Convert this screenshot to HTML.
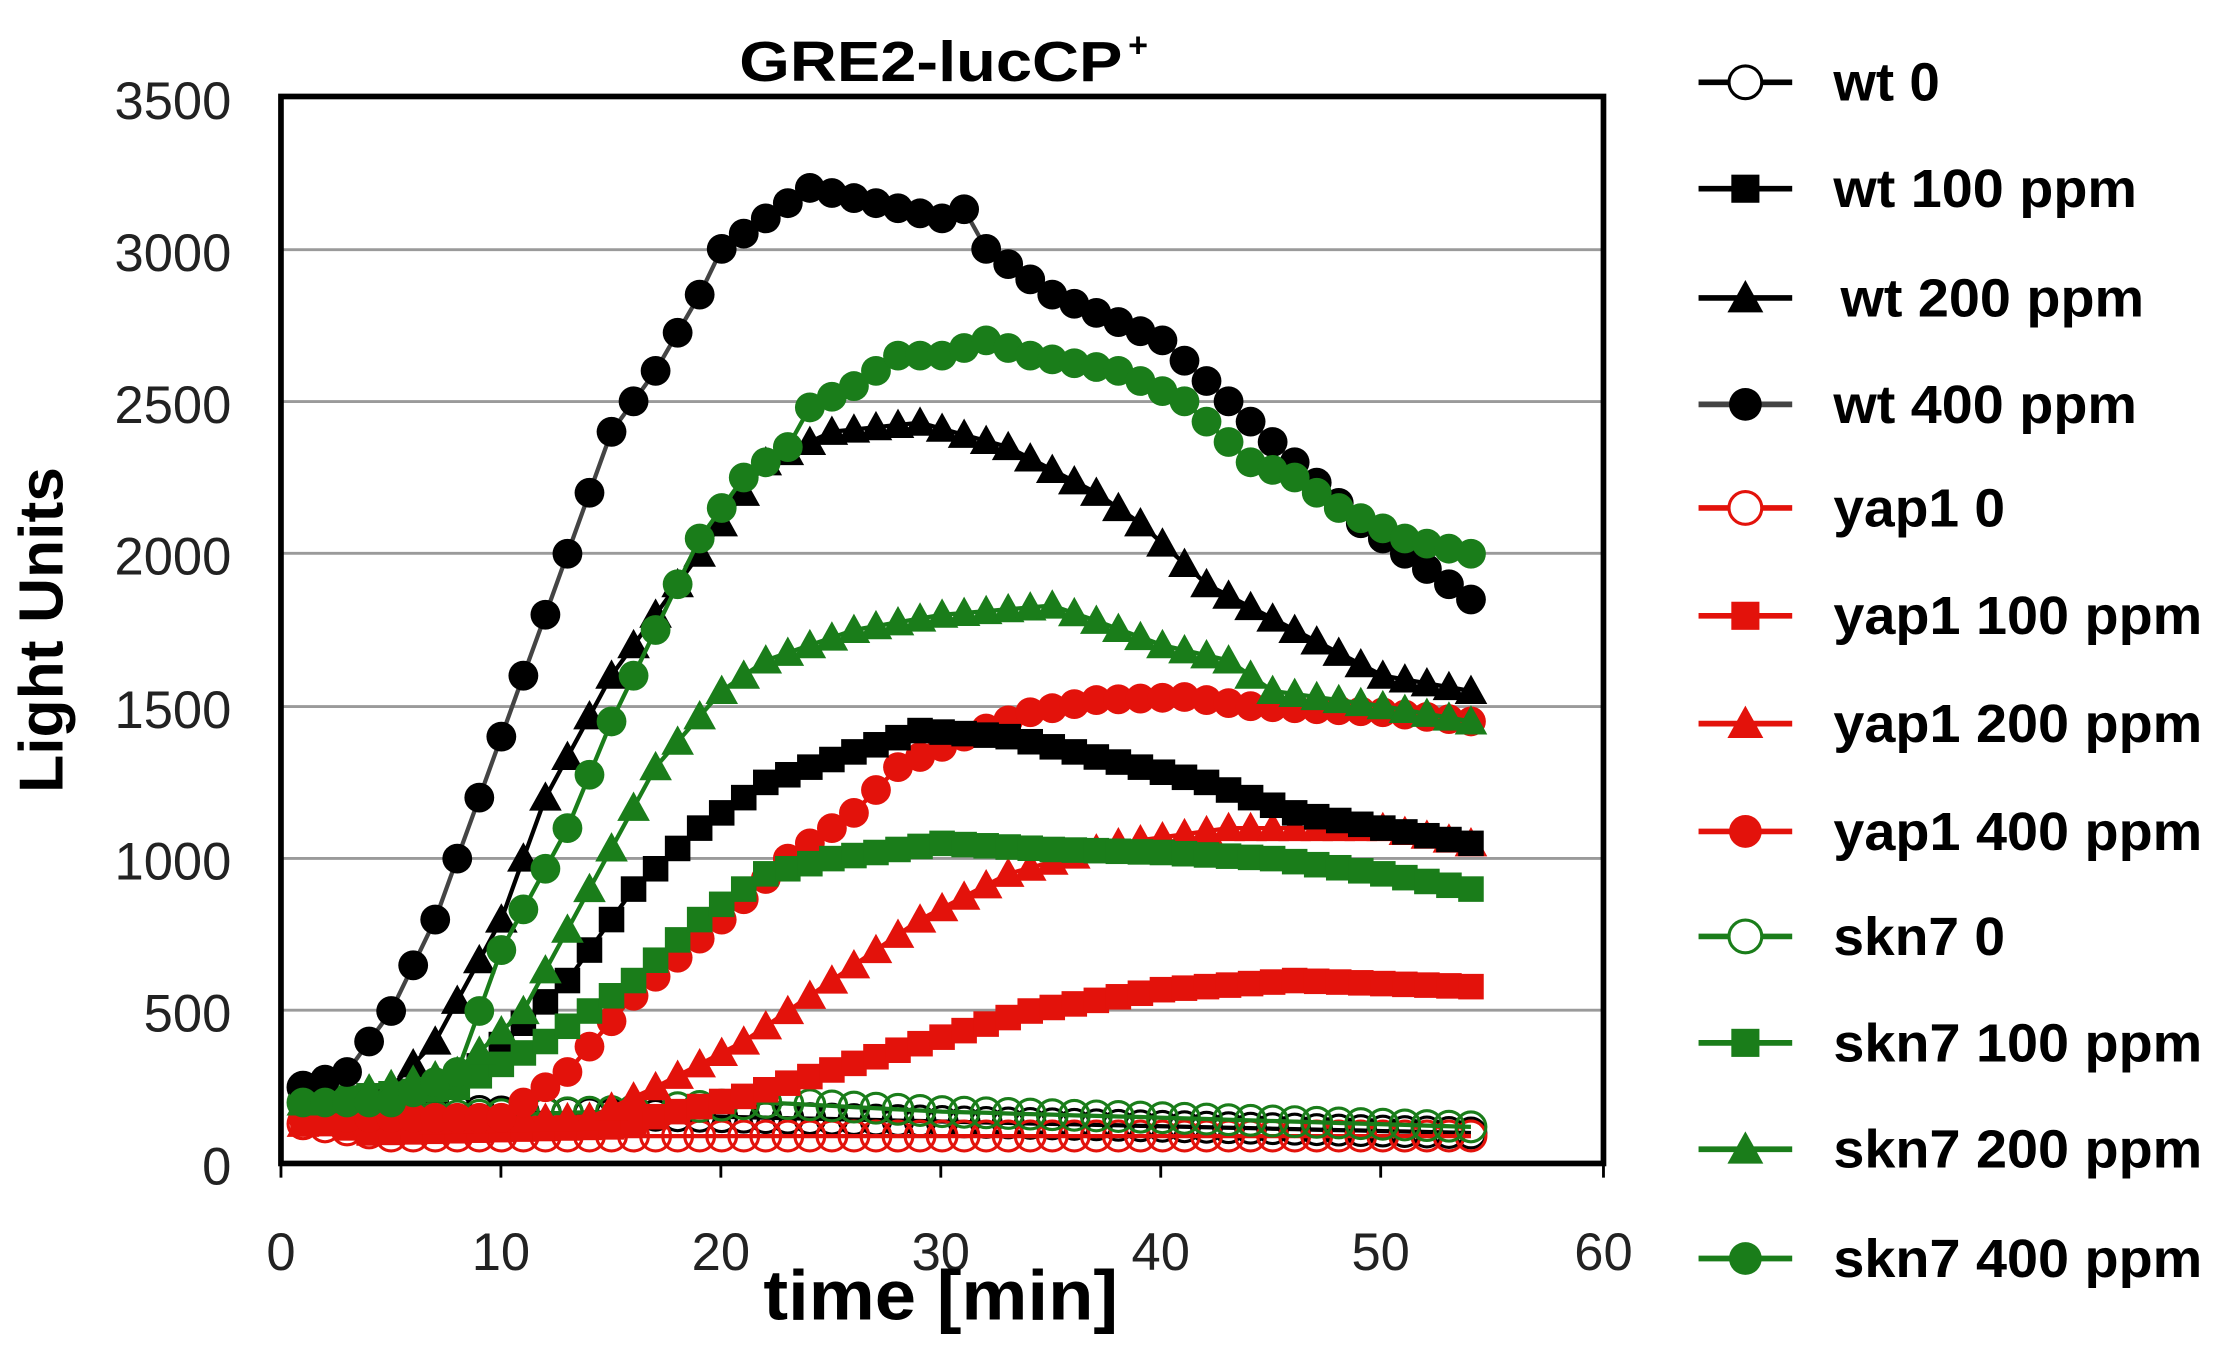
<!DOCTYPE html>
<html><head><meta charset="utf-8"><style>
html,body{margin:0;padding:0;background:#fff;}
svg{display:block;}
text{font-family:"Liberation Sans",Arial,sans-serif;}
</style></head><body>
<svg id="s" width="2225" height="1355" viewBox="0 0 1568 955" preserveAspectRatio="none" xmlns="http://www.w3.org/2000/svg">
<rect width="1568" height="955" fill="#fff"/>
<g stroke="#9a9a9a" stroke-width="2">
<line x1="198" x2="1130" y1="176" y2="176"/>
<line x1="198" x2="1130" y1="283" y2="283"/>
<line x1="198" x2="1130" y1="390" y2="390"/>
<line x1="198" x2="1130" y1="498" y2="498"/>
<line x1="198" x2="1130" y1="605" y2="605"/>
<line x1="198" x2="1130" y1="712" y2="712"/>
</g>
<g id="data"></g>
<rect x="198" y="68" width="932" height="752" fill="none" stroke="#000" stroke-width="4"/>
<g stroke="#000" stroke-width="2">
<line x1="198" x2="198" y1="820" y2="830"/><line x1="353" x2="353" y1="820" y2="830"/><line x1="508" x2="508" y1="820" y2="830"/><line x1="663" x2="663" y1="820" y2="830"/><line x1="818" x2="818" y1="820" y2="830"/><line x1="973" x2="973" y1="820" y2="830"/><line x1="1130" x2="1130" y1="820" y2="830"/>
</g>
<g font-size="37" fill="#222" text-anchor="end">
<text x="163" y="84">3500</text><text x="163" y="191">3000</text><text x="163" y="298">2500</text><text x="163" y="405">2000</text><text x="163" y="513">1500</text><text x="163" y="620">1000</text><text x="163" y="727">500</text><text x="163" y="835">0</text>
</g>
<g font-size="37" fill="#222" text-anchor="middle">
<text x="198" y="895">0</text><text x="353" y="895">10</text><text x="508" y="895">20</text><text x="663" y="895">30</text><text x="818" y="895">40</text><text x="973" y="895">50</text><text x="1130" y="895">60</text>
</g>
<text x="521" y="57" font-size="40" font-weight="bold" textLength="270" lengthAdjust="spacingAndGlyphs">GRE2-lucCP</text><text x="795" y="40" font-size="24" font-weight="bold">+</text>
<text x="538" y="930" font-size="50" font-weight="bold" textLength="250" lengthAdjust="spacingAndGlyphs">time [min]</text>
<text transform="translate(44,444) rotate(-90)" font-size="44" font-weight="bold" text-anchor="middle">Light Units</text>
<g id="leg" font-size="38" font-weight="bold"></g>
</svg>
<script>
var NS="http://www.w3.org/2000/svg";
function X(t){return 198+t*15.53;}
function Y(v){return 820-v*0.21486;}
function interp(k,t){for(var i=0;i<k.length-1;i++){if(t<=k[i+1][0]){var a=k[i],b=k[i+1];return a[1]+(b[1]-a[1])*(t-a[0])/(b[0]-a[0]);}}return k[k.length-1][1];}
var R="#e3120b",G="#1a7d1a",B="#000";
var S=[
{c:B,m:"o",k:[[1,250],[3,180],[54,100]]},
{c:R,m:"o",k:[[1,130],[5,90],[54,90]]},
{c:G,m:"o",k:[[1,200],[5,150],[15,170],[22,200],[30,170],[40,150],[54,120]]},
{c:R,m:"s",k:[[1,150],[4,100],[15,120],[21,220],[27,350],[34,500],[40,570],[46,600],[54,580]]},
{c:R,m:"t",k:[[1,130],[14,150],[17,250],[21,400],[25,600],[29,800],[33,950],[38,1050],[43,1100],[50,1100],[54,1050]]},
{c:R,m:"c",k:[[1,150],[10,150],[13,300],[16,550],[20,800],[23,1000],[26,1150],[28,1300],[31,1400],[34,1480],[37,1520],[41,1530],[44,1500],[50,1480],[54,1450]]},
{c:B,m:"s",k:[[1,200],[8,250],[13,600],[16,900],[19,1100],[22,1250],[26,1350],[29,1420],[33,1400],[36,1350],[42,1250],[46,1150],[50,1100],[54,1050]]},
{c:G,m:"s",k:[[1,200],[8,250],[12,400],[16,600],[19,800],[22,950],[25,1000],[30,1050],[35,1030],[40,1020],[45,1000],[50,950],[54,900]]},
{c:B,m:"t",k:[[1,200],[5,250],[7,400],[10,800],[12,1200],[15,1600],[18,1900],[20,2100],[22,2300],[25,2400],[29,2430],[33,2350],[37,2200],[39,2100],[42,1900],[46,1750],[50,1600],[54,1550]]},
{c:G,m:"t",k:[[1,200],[8,300],[11,500],[14,900],[17,1300],[20,1550],[22,1650],[26,1750],[30,1800],[35,1830],[37,1780],[40,1700],[43,1650],[45,1550],[50,1500],[54,1450]]},
{c:B,m:"c",l:"#444",k:[[1,250],[3,300],[5,500],[7,800],[9,1200],[11,1600],[13,2000],[15,2400],[17,2600],[19,2850],[20,3000],[22,3100],[24,3200],[27,3150],[30,3100],[31,3130],[32,3000],[35,2850],[40,2700],[43,2500],[46,2300],[49,2100],[51,2000],[54,1850]]},
{c:G,m:"c",k:[[1,200],[5,200],[8,300],[10,700],[13,1100],[15,1450],[17,1750],[19,2050],[21,2250],[23,2350],[24,2480],[26,2550],[28,2650],[30,2650],[32,2700],[34,2650],[38,2600],[41,2500],[44,2300],[46,2250],[48,2150],[51,2050],[54,2000]]}
];
function mk(g,m,c,x,y,sc){var e;sc=sc||1;
if(m=="o"||m=="c"){e=document.createElementNS(NS,"circle");e.setAttribute("cx",x);e.setAttribute("cy",y);e.setAttribute("r",10.5*sc);
if(m=="o"){e.setAttribute("fill","none");e.setAttribute("stroke",c);e.setAttribute("stroke-width",2.2);}else e.setAttribute("fill",c);}
else if(m=="s"){e=document.createElementNS(NS,"rect");var h=9*sc;e.setAttribute("x",x-h);e.setAttribute("y",y-h);e.setAttribute("width",2*h);e.setAttribute("height",2*h);e.setAttribute("fill",c);}
else{e=document.createElementNS(NS,"polygon");var h=11.5*sc;e.setAttribute("points",(x)+","+(y-h)+" "+(x+h)+","+(y+h*0.8)+" "+(x-h)+","+(y+h*0.8));e.setAttribute("fill",c);}
g.appendChild(e);}
var D=document.getElementById("data");
S.forEach(function(s){var pts=[];for(var t=1;t<=54;t++){pts.push([X(t),Y(interp(s.k,t))]);}
var p=document.createElementNS(NS,"polyline");p.setAttribute("points",pts.map(function(q){return q[0].toFixed(1)+","+q[1].toFixed(1)}).join(" "));p.setAttribute("fill","none");p.setAttribute("stroke",s.l||s.c);p.setAttribute("stroke-width",3);D.appendChild(p);
pts.forEach(function(q){mk(D,s.m,s.c,q[0],q[1]);});});
var L=document.getElementById("leg");
var items=[["wt 0",B,"o",75],["wt 100 ppm",B,"s",214],[" wt 200 ppm",B,"t",214],["wt 400 ppm",B,"c",214],["yap1 0",R,"o",121],["yap1 100 ppm",R,"s",260],["yap1 200 ppm",R,"t",260],["yap1 400 ppm",R,"c",260],["skn7 0",G,"o",121],["skn7 100 ppm",G,"s",260],["skn7 200 ppm",G,"t",260],["skn7 400 ppm",G,"c",260]];
var ys=[58,133,210,285,358,434,510,586,660,735,810,887];
items.forEach(function(it,i){var y=ys[i];var l=document.createElementNS(NS,"line");l.setAttribute("x1",1197);l.setAttribute("x2",1263);l.setAttribute("y1",y);l.setAttribute("y2",y);l.setAttribute("stroke",it[2]=="c"&&it[1]==B?"#444":it[1]);l.setAttribute("stroke-width",4);L.appendChild(l);
var e0=it[2]=="o";mk(L,it[2],it[1],1230,y,1.1);
if(e0){L.lastChild.setAttribute("fill","#fff");}
var tx=document.createElementNS(NS,"text");tx.setAttribute("x",i==2?1297:1292);tx.setAttribute("y",y+13);tx.setAttribute("textLength",it[3]);tx.setAttribute("lengthAdjust","spacingAndGlyphs");tx.textContent=it[0].trim();L.appendChild(tx);});
</script>
</body></html>
